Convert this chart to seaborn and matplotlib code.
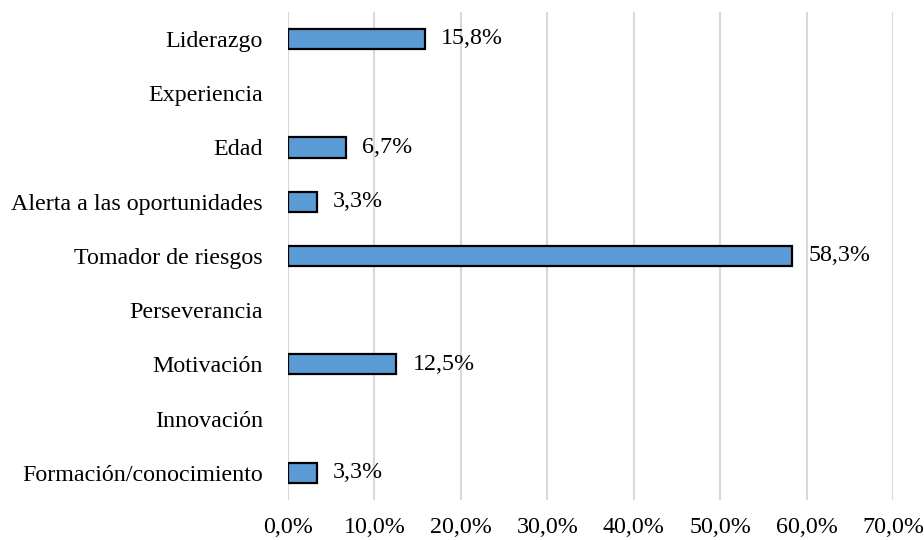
import numpy as np
import pandas as pd
import matplotlib
matplotlib.use("Agg")
import matplotlib.pyplot as plt
import seaborn as sns

# Data (percent)
categories = [
    "Liderazgo",
    "Experiencia",
    "Edad",
    "Alerta a las oportunidades",
    "Tomador de riesgos",
    "Perseverancia",
    "Motivación",
    "Innovación",
    "Formación/conocimiento",
]
values = [15.8, 0.0, 6.7, 3.3, 58.3, 0.0, 12.5, 0.0, 3.3]
xticks = [0, 10, 20, 30, 40, 50, 60, 70]

sns.set_theme(style="white")
plt.rcParams["font.family"] = ["Liberation Serif", "DejaVu Serif"]

FS = 17.3

df = pd.DataFrame({"cat": categories, "val": values})
# empty categories show no bar at all
df["plot_val"] = df["val"].replace(0.0, np.nan)

fig = plt.figure(figsize=(9.24, 5.4), dpi=100)
ax = fig.add_axes([0.3117, 0.074, 0.6548, 0.904])

sns.barplot(data=df, x="plot_val", y="cat", order=categories, orient="h",
            color="#5B9BD5", saturation=1, edgecolor="black", linewidth=1.6,
            width=0.37, errorbar=None, ax=ax, zorder=3)

# value labels
for i, v in enumerate(values):
    if v > 0:
        ax.text(v + 1.9, i, f"{v:.1f}%".replace(".", ","), va="center",
                ha="left", fontsize=FS, color="black")

ax.set_xlim(0, 70)
ax.set_ylim(len(categories) - 0.5, -0.5)
ax.set_xticks(xticks)
ax.set_xticklabels([f"{t:.1f}%".replace(".", ",") for t in xticks], fontsize=FS)
ax.tick_params(axis="x", length=0, pad=12, colors="black")
ax.tick_params(axis="y", length=0, pad=18, labelsize=FS, colors="black")
ax.set_xlabel("")
ax.set_ylabel("")
ax.xaxis.grid(True, color="#D9D9D9", linewidth=1.5, zorder=0)
ax.yaxis.grid(False)
ax.set_axisbelow(True)
for s in ax.spines.values():
    s.set_visible(False)

fig.savefig("out.png", dpi=100)
